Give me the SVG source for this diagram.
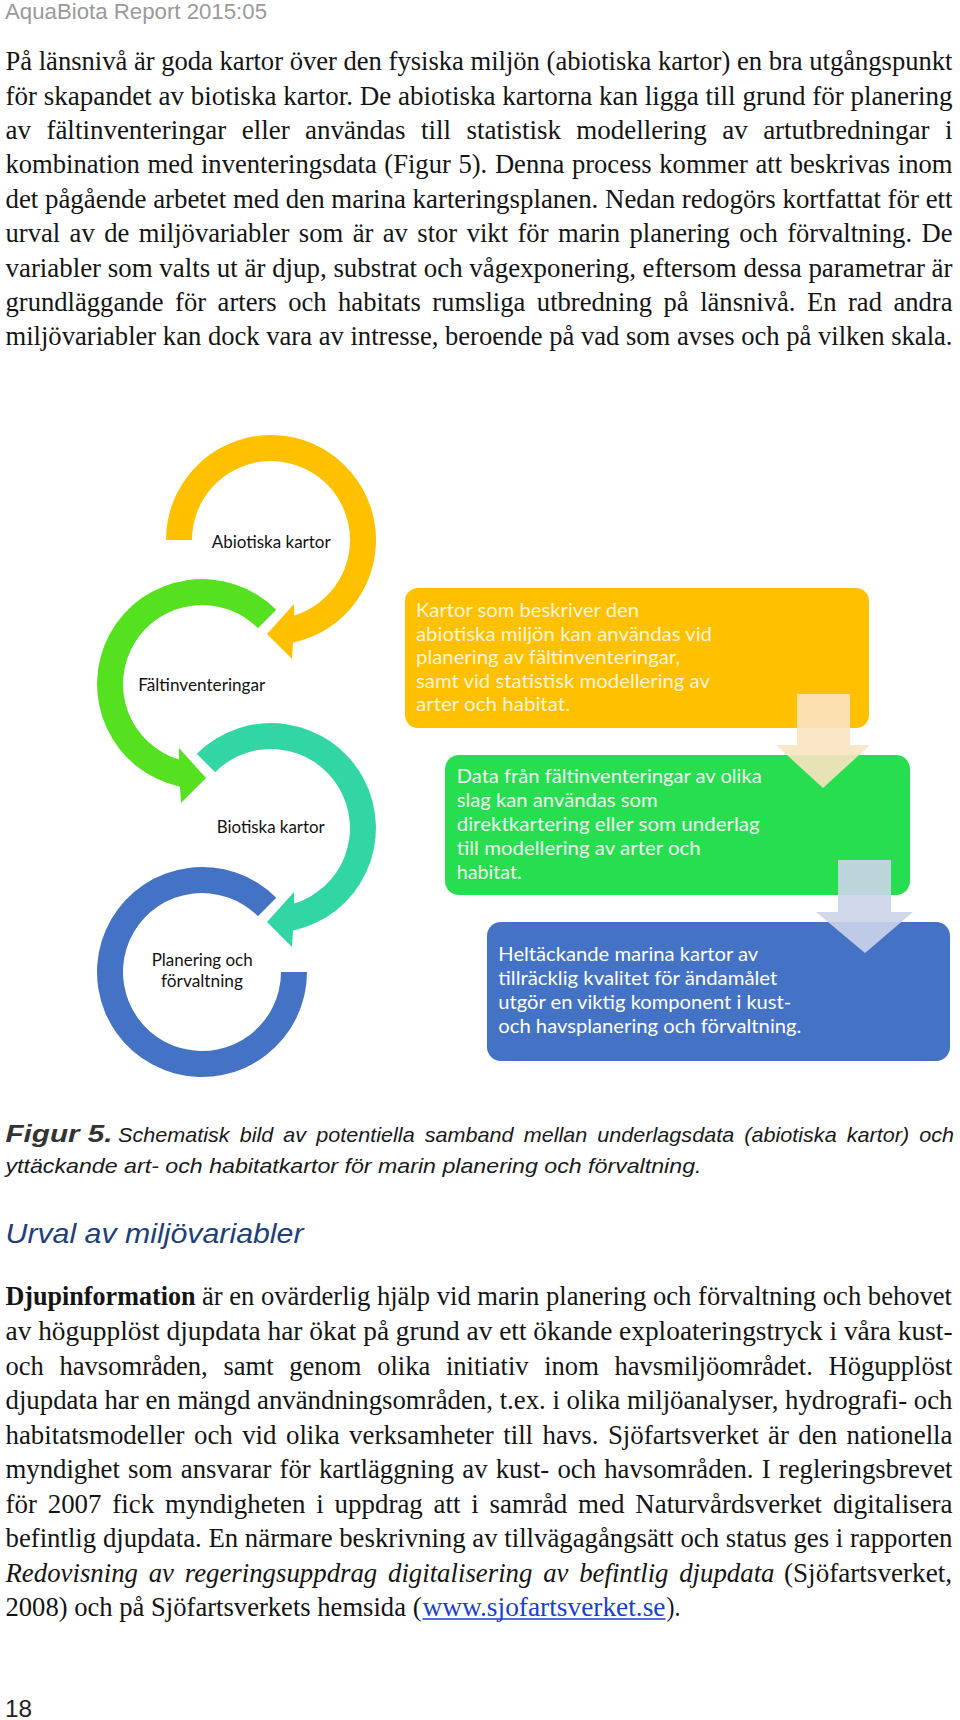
<svg xmlns="http://www.w3.org/2000/svg" width="960" height="1720" viewBox="0 0 960 1720">
<style>
.hdr{font-family:"Liberation Sans",Arial,sans-serif;font-size:22px;fill:#9a9a9a}
.pg{font-family:"Liberation Sans",Arial,sans-serif;font-size:24px;fill:#222222}
.body{font-family:"Liberation Serif","Times New Roman",serif;font-size:26.5px;fill:#141414}
.b{font-weight:bold}
.i{font-style:italic}
.cap{font-family:"Liberation Sans",Arial,sans-serif;font-size:21px;font-style:italic;fill:#1a1a1a}
.fig{font-family:"Liberation Sans",Arial,sans-serif;font-size:23px;font-style:italic;font-weight:bold;fill:#333333}
.h2{font-family:"Liberation Sans",Arial,sans-serif;font-size:28px;font-style:italic;fill:#1f3f7a}
.lbl{font-family:Lato,"Open Sans",sans-serif;font-size:17px;fill:#111111}
.bx{font-family:Lato,"Open Sans",sans-serif;font-size:19px}
.link{fill:#1a3fd0}
</style>
<rect width="960" height="1720" fill="#ffffff"/>

<text class="hdr" x="5" y="19" textLength="262" lengthAdjust="spacingAndGlyphs">AquaBiota Report 2015:05</text>

<g id="intro-text">
<text class="body" x="5.5" y="70" textLength="947" lengthAdjust="spacingAndGlyphs">På länsnivå är goda kartor över den fysiska miljön (abiotiska kartor) en bra utgångspunkt</text>
<text class="body" x="5.5" y="104.5" textLength="947" lengthAdjust="spacingAndGlyphs">för skapandet av biotiska kartor. De abiotiska kartorna kan ligga till grund för planering</text>
<text class="body" x="5.5" y="139" textLength="947" lengthAdjust="spacingAndGlyphs" word-spacing="8.5">av fältinventeringar eller användas till statistisk modellering av artutbredningar i</text>
<text class="body" x="5.5" y="173" textLength="947" lengthAdjust="spacingAndGlyphs" word-spacing="1">kombination med inventeringsdata (Figur 5). Denna process kommer att beskrivas inom</text>
<text class="body" x="5.5" y="207.5" textLength="947" lengthAdjust="spacingAndGlyphs">det pågående arbetet med den marina karteringsplanen. Nedan redogörs kortfattat för ett</text>
<text class="body" x="5.5" y="242" textLength="947" lengthAdjust="spacingAndGlyphs" word-spacing="2.8">urval av de miljövariabler som är av stor vikt för marin planering och förvaltning. De</text>
<text class="body" x="5.5" y="276.5" textLength="947" lengthAdjust="spacingAndGlyphs">variabler som valts ut är djup, substrat och vågexponering, eftersom dessa parametrar är</text>
<text class="body" x="5.5" y="311" textLength="947" lengthAdjust="spacingAndGlyphs" word-spacing="4.8">grundläggande för arters och habitats rumsliga utbredning på länsnivå.  En rad andra</text>
<text class="body" x="5.5" y="345" textLength="947" lengthAdjust="spacingAndGlyphs">miljövariabler kan dock vara av intresse, beroende på vad som avses och på vilken skala.</text>
</g>

<g id="node-abiotiska">
<path fill="#FFC000" d="M166,540 A105,105 0 1 1 293,642.7 L292,659 L267,634 L294,604 L294,615.6 A79,79 0 1 0 192,540 Z"/>
<text class="lbl" x="211.7" y="548" textLength="119" lengthAdjust="spacingAndGlyphs">Abiotiska kartor</text>
</g>
<g id="node-faltinventeringar">
<path fill="#55E020" d="M276.25,609.75 A105,105 0 1 0 180,786.7 L181,803 L206,778 L179,748 L179,759.6 A79,79 0 1 1 257.86,628.14 Z"/>
<text class="lbl" x="138.3" y="690.7" textLength="127" lengthAdjust="spacingAndGlyphs">Fältinventeringar</text>
</g>
<g id="node-biotiska">
<path fill="#32D6A4" d="M196.75,753.75 A105,105 0 1 1 293,930.7 L292,947 L267,922 L294,892 L294,903.6 A79,79 0 1 0 215.14,772.14 Z"/>
<text class="lbl" x="216.7" y="833" textLength="108" lengthAdjust="spacingAndGlyphs">Biotiska kartor</text>
</g>
<g id="node-planering">
<path fill="#4472C4" d="M276.25,897.75 A105,105 0 1 0 307,972 L281,972 A79,79 0 1 1 257.86,916.14 Z"/>
<text class="lbl" x="151.7" y="966" textLength="101" lengthAdjust="spacingAndGlyphs">Planering och</text>
<text class="lbl" x="161" y="986.7" textLength="82" lengthAdjust="spacingAndGlyphs">förvaltning</text>
</g>

<g id="box-abiotiska">
<rect x="405" y="588" width="464" height="140" rx="13" fill="#FFC000"/>
<g class="bx" fill="#FFF5DC">
<text x="416" y="617" textLength="223" lengthAdjust="spacingAndGlyphs">Kartor som beskriver den</text>
<text x="416" y="640.5" textLength="296" lengthAdjust="spacingAndGlyphs">abiotiska miljön kan användas vid</text>
<text x="416" y="664" textLength="264" lengthAdjust="spacingAndGlyphs">planering av fältinventeringar,</text>
<text x="416" y="687.5" textLength="294" lengthAdjust="spacingAndGlyphs">samt vid statistisk modellering av</text>
<text x="416" y="711" textLength="154" lengthAdjust="spacingAndGlyphs">arter och habitat.</text>
</g>
</g>
<g id="box-falt">
<rect x="445" y="755" width="465" height="140" rx="14" fill="#27DE50"/>
<g class="bx" fill="#ECFBEE">
<text x="456.7" y="783.3" textLength="305" lengthAdjust="spacingAndGlyphs">Data från fältinventeringar av olika</text>
<text x="456.7" y="807" textLength="201" lengthAdjust="spacingAndGlyphs">slag kan användas som</text>
<text x="456.7" y="831" textLength="303" lengthAdjust="spacingAndGlyphs">direktkartering eller som underlag</text>
<text x="456.7" y="855" textLength="244" lengthAdjust="spacingAndGlyphs">till modellering av arter och</text>
<text x="456.7" y="878.5" textLength="65" lengthAdjust="spacingAndGlyphs">habitat.</text>
</g>
</g>
<g id="box-planering">
<rect x="487" y="922" width="463" height="139" rx="14" fill="#4472C4"/>
<g class="bx" fill="#FFFFFF">
<text x="498.3" y="960.5" textLength="260" lengthAdjust="spacingAndGlyphs">Heltäckande marina kartor av</text>
<text x="498.3" y="984.5" textLength="279" lengthAdjust="spacingAndGlyphs">tillräcklig kvalitet för ändamålet</text>
<text x="498.3" y="1008.5" textLength="293" lengthAdjust="spacingAndGlyphs">utgör en viktig komponent i kust-</text>
<text x="498.3" y="1032.5" textLength="303" lengthAdjust="spacingAndGlyphs">och havsplanering och förvaltning.</text>
</g>
</g>

<g id="connectors">
<path fill="#FCE3C2" fill-opacity="0.9" d="M797,694 H850 V745 H870 L823,788 L776,745 H797 Z"/>
<path fill="#CDD4EA" fill-opacity="0.9" d="M838,860 H891 V912 H913 L865,953 L816,912 H838 Z"/>
</g>

<g id="caption">
<text class="fig" x="5.5" y="1142" textLength="107" lengthAdjust="spacingAndGlyphs">Figur 5.</text>
<text class="cap" x="118" y="1142" textLength="836" lengthAdjust="spacingAndGlyphs" word-spacing="4">Schematisk bild av potentiella samband mellan underlagsdata (abiotiska kartor) och</text>
<text class="cap" x="5.5" y="1173" textLength="696" lengthAdjust="spacingAndGlyphs">yttäckande art- och habitatkartor för marin planering och förvaltning.</text>
</g>

<text class="h2" x="5.5" y="1243" textLength="298" lengthAdjust="spacingAndGlyphs">Urval av miljövariabler</text>

<g id="djup-text">
<text class="body b" x="5.5" y="1305" textLength="190" lengthAdjust="spacingAndGlyphs">Djupinformation</text>
<text class="body" x="202" y="1305" textLength="750" lengthAdjust="spacingAndGlyphs">är en ovärderlig hjälp vid marin planering och förvaltning och behovet</text>
<text class="body" x="5.5" y="1340" textLength="947" lengthAdjust="spacingAndGlyphs">av högupplöst djupdata har ökat på grund av ett ökande exploateringstryck i våra kust-</text>
<text class="body" x="5.5" y="1374.5" textLength="947" lengthAdjust="spacingAndGlyphs" word-spacing="9">och havsområden, samt genom olika initiativ inom havsmiljöområdet. Högupplöst</text>
<text class="body" x="5.5" y="1409" textLength="947" lengthAdjust="spacingAndGlyphs">djupdata har en mängd användningsområden, t.ex. i olika miljöanalyser, hydrografi- och</text>
<text class="body" x="5.5" y="1443.5" textLength="947" lengthAdjust="spacingAndGlyphs" word-spacing="2.7">habitatsmodeller och vid olika verksamheter till havs. Sjöfartsverket är den nationella</text>
<text class="body" x="5.5" y="1478" textLength="947" lengthAdjust="spacingAndGlyphs" word-spacing="1.5">myndighet som ansvarar för kartläggning av kust- och havsområden. I regleringsbrevet</text>
<text class="body" x="5.5" y="1512.5" textLength="947" lengthAdjust="spacingAndGlyphs" word-spacing="4">för 2007 fick myndigheten i uppdrag att i samråd med Naturvårdsverket digitalisera</text>
<text class="body" x="5.5" y="1547" textLength="947" lengthAdjust="spacingAndGlyphs">befintlig djupdata. En närmare beskrivning av tillvägagångsätt och status ges i rapporten</text>
<text class="body i" x="5.5" y="1581.5" textLength="769" lengthAdjust="spacingAndGlyphs" word-spacing="4">Redovisning av regeringsuppdrag digitalisering av befintlig djupdata</text>
<text class="body" x="784" y="1581.5" textLength="168" lengthAdjust="spacingAndGlyphs">(Sjöfartsverket,</text>
<text class="body" x="5.5" y="1616" textLength="416" lengthAdjust="spacingAndGlyphs">2008) och på Sjöfartsverkets hemsida (</text>
<text class="body link" x="422.5" y="1616" textLength="243" lengthAdjust="spacingAndGlyphs">www.sjofartsverket.se</text>
<line x1="422.5" y1="1619" x2="665.5" y2="1619" stroke="#1a3fd0" stroke-width="1.5"/>
<text class="body" x="666.5" y="1616" textLength="14" lengthAdjust="spacingAndGlyphs">).</text>
</g>

<text class="pg" x="5" y="1717" textLength="27" lengthAdjust="spacingAndGlyphs">18</text>
</svg>
